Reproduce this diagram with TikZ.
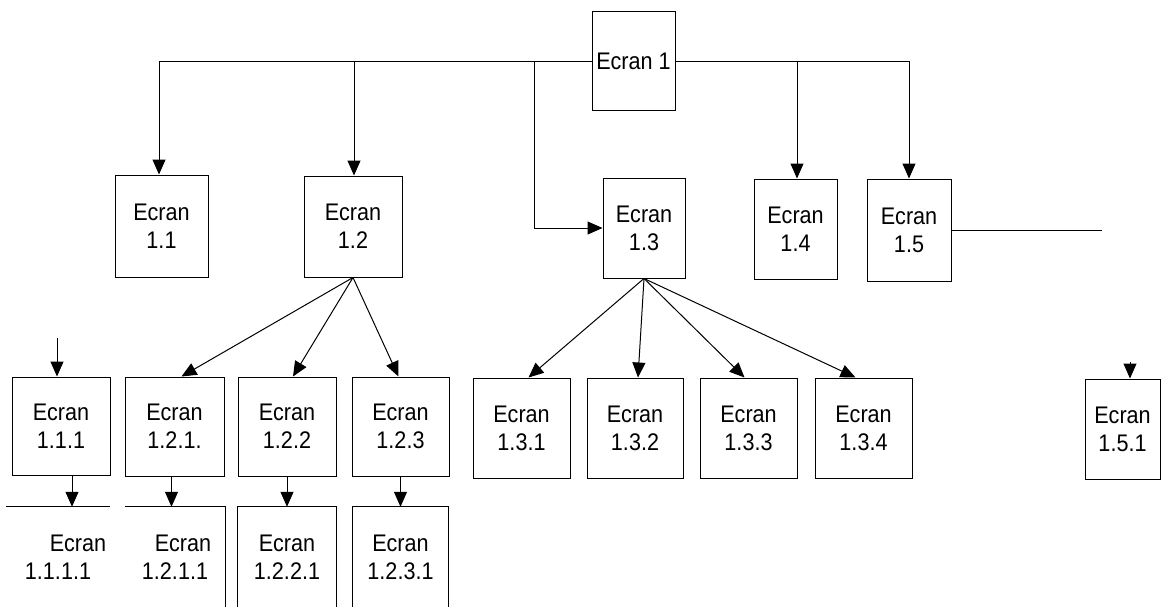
\documentclass[tikz,border=0pt]{standalone}
\usepackage{fontspec}
\setmainfont{Liberation Sans}[FakeStretch=0.9]
\usetikzlibrary{arrows.meta}
\newcommand{\ecfont}{\fontsize{24}{28}\selectfont}
\begin{document}
\begin{tikzpicture}[x=1pt,y=-1pt,
  box/.style={draw,line width=1pt,inner sep=0pt,align=center,font=\ecfont},
  txt/.style={inner sep=0pt,align=center,font=\ecfont},
  link/.style={line width=1pt},
  arr/.style={line width=1pt,-{Triangle[width=13pt,length=15pt]}}]
\useasboundingbox (0,0) rectangle (1167,606);

% level 1
\node[box,minimum width=83pt,minimum height=99pt] (e1) at (633.5,61) {Ecran 1};
% level 2
\node[box,minimum width=93pt,minimum height=102pt] (e11) at (161.5,226) {Ecran\\1.1};
\node[box,minimum width=98pt,minimum height=101pt] (e12) at (353,226.5) {Ecran\\1.2};
\node[box,minimum width=82pt,minimum height=100pt] (e13) at (644,228) {Ecran\\1.3};
\node[box,minimum width=83pt,minimum height=100pt] (e14) at (795.5,229) {Ecran\\1.4};
\node[box,minimum width=84pt,minimum height=102pt] (e15) at (909,230) {Ecran\\1.5};
% level 3
\node[box,minimum width=98pt,minimum height=98pt] (e111) at (61,426) {Ecran\\1.1.1};
\node[box,minimum width=99pt,minimum height=99pt] (e121) at (174.5,426.5) {Ecran\\1.2.1.};
\node[box,minimum width=98pt,minimum height=99pt] (e122) at (287,426.5) {Ecran\\1.2.2};
\node[box,minimum width=97pt,minimum height=99pt] (e123) at (400.5,426.5) {Ecran\\1.2.3};
\node[box,minimum width=97pt,minimum height=100pt] (e131) at (521.5,428) {Ecran\\1.3.1};
\node[box,minimum width=96pt,minimum height=100pt] (e132) at (635,428) {Ecran\\1.3.2};
\node[box,minimum width=97pt,minimum height=100pt] (e133) at (748.5,428) {Ecran\\1.3.3};
\node[box,minimum width=97pt,minimum height=100pt] (e134) at (863.5,428) {Ecran\\1.3.4};
\node[box,minimum width=75pt,minimum height=100pt] (e151) at (1122.5,429) {Ecran\\1.5.1};
% level 4 (boxes cut by the page edge)
\node[txt,minimum width=104pt,minimum height=100pt] (e1111) at (58,557) {\hspace*{40pt}Ecran\\1.1.1.1};
\node[txt,minimum width=100pt,minimum height=100pt] (e1211) at (175,557) {\hspace*{16pt}Ecran\\1.2.1.1};
\node[txt,minimum width=98pt,minimum height=100pt] (e1221) at (287,557) {Ecran\\1.2.2.1};
\node[txt,minimum width=96pt,minimum height=100pt] (e1231) at (400.5,557) {Ecran\\1.2.3.1};
\draw[link] (e1111.north west) -- (e1111.north east);
\draw[link] (e1211.north west) -- (e1211.north east) -- (e1211.south east);
\draw[link] (e1221.south west) -- (e1221.north west) -- (e1221.north east) -- (e1221.south east);
\draw[link] (e1231.south west) -- (e1231.north west) -- (e1231.north east) -- (e1231.south east);

% top bus
\coordinate (b11) at (159,61);
\coordinate (b12) at (354,61);
\coordinate (b13) at (534,61);
\coordinate (b14) at (797,61);
\coordinate (b15) at (909,61);
\draw[link] (e1.west) -- (b11);
\draw[link] (e1.east) -- (b15);
\draw[arr] (b11) -- (b11 |- e11.north);
\draw[arr] (b12) -- (b12 |- e12.north);
\draw[arr] (b13) |- (e13.west);
\draw[arr] (b14) -- (b14 |- e14.north);
\draw[arr] (b15) -- (b15 |- e15.north);

% from 1.2
\draw[arr] (e12.south) -- ([xshift=7pt]e121.north);
\draw[arr] (e12.south) -- ([xshift=6pt]e122.north);
\draw[arr] (e12.south) -- ([xshift=-2pt]e123.north);
% from 1.3
\draw[arr] (e13.south) -- ([xshift=7pt]e131.north);
\draw[arr] (e13.south) -- ([xshift=3pt]e132.north);
\draw[arr] (e13.south) -- ([xshift=-4pt]e133.north);
\draw[arr] (e13.south) -- ([xshift=-8pt]e134.north);

% 1.1 -> 1.1.1 (only the lower part shows)
\coordinate (t111) at (57,338);
\draw[arr] (t111) -- (t111 |- e111.north);
% 1.5 -> 1.5.1
\coordinate (r15) at (1102,230);
\draw[link] (e15.east) -- (r15);
\coordinate (t151) at (1130,362);
\draw[arr] (t151) -- (t151 |- e151.north);

% level 3 -> level 4
\draw[arr] ([xshift=11pt]e111.south) -- ([xshift=11pt]e111.south |- e1111.north);
\draw[arr] ([xshift=-3pt]e121.south) -- ([xshift=-3pt]e121.south |- e1211.north);
\draw[arr] (e122.south) -- (e122.south |- e1221.north);
\draw[arr] (e123.south) -- (e123.south |- e1231.north);
\end{tikzpicture}
\end{document}
